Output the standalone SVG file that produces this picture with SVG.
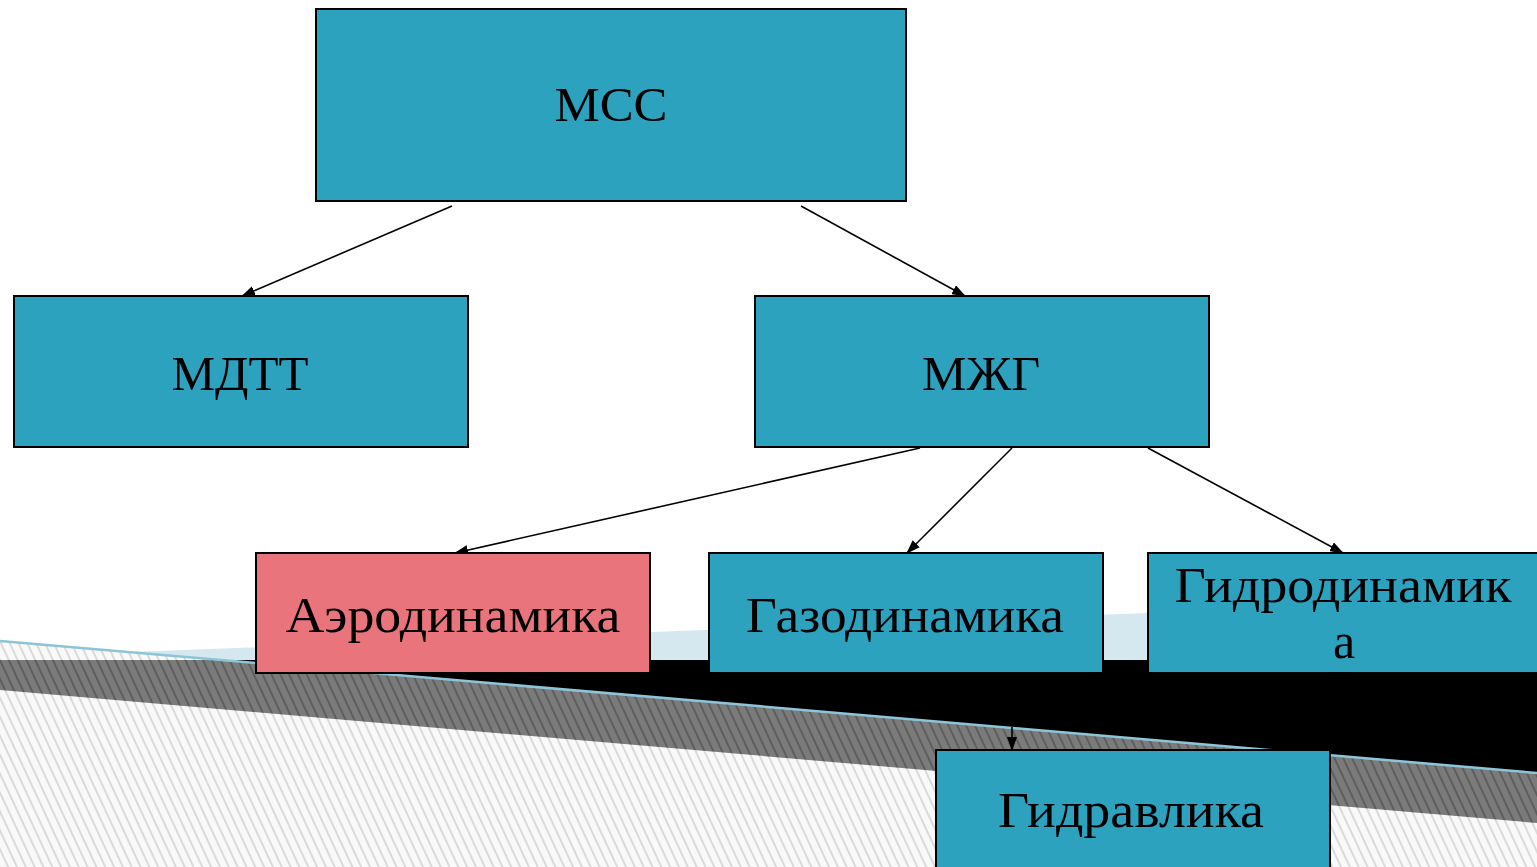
<svg xmlns="http://www.w3.org/2000/svg" width="1537" height="867" viewBox="0 0 1537 867">
  <style>
    .box{fill:#2ca2bf;stroke:#000;stroke-width:2}
    .red{fill:#ea747b;stroke:#000;stroke-width:2}
    .lbl{font-family:"Liberation Serif","Times New Roman",serif;fill:#000;text-anchor:middle}
    .big{font-size:48px}
    .mid{font-size:50px}
    .conn{stroke:#000;stroke-width:1.6;fill:none;marker-end:url(#arr)}
  </style>
  <defs>
    <marker id="arr" markerUnits="userSpaceOnUse" markerWidth="14" markerHeight="10" viewBox="0 0 14 10" refX="13" refY="5" orient="auto">
      <path d="M0,0 L14,5 L0,10 Z" fill="#000"/>
    </marker>
    <pattern id="hatchLight" width="8" height="8" patternUnits="userSpaceOnUse" patternTransform="rotate(-25)">
      <rect width="8" height="8" fill="#f9f9f9"/>
      <line x1="1" y1="0" x2="1" y2="8" stroke="#c6c6c6" stroke-width="1.2"/>
    </pattern>
    <pattern id="hatchDark" width="8" height="8" patternUnits="userSpaceOnUse" patternTransform="rotate(-25)">
      <rect width="8" height="8" fill="#7b7b7b"/>
      <line x1="1" y1="0" x2="1" y2="8" stroke="#4a4a4a" stroke-width="1.2"/>
    </pattern>
  </defs>

  <rect width="1537" height="867" fill="#ffffff"/>

  <g id="background">
    <polygon points="0,641 1537,773 1537,867 0,867" fill="url(#hatchLight)"/>
    <polygon points="0,660 221,660 1537,773 1537,823 0,690" fill="url(#hatchDark)"/>
    <polygon points="221,660 1537,660 1537,773" fill="#000"/>
    <polygon points="130,652 1537,598 1537,660 221,660" fill="#d6e8ef"/>
    <line x1="0" y1="641" x2="1537" y2="773" stroke="#8cc4d8" stroke-width="2.5"/>
  </g>

  <g id="connectors">
    <line class="conn" x1="452" y1="206" x2="242" y2="296"/>
    <line class="conn" x1="801" y1="206" x2="965" y2="296"/>
    <line class="conn" x1="920" y1="448" x2="455" y2="553"/>
    <line class="conn" x1="1012" y1="448" x2="907" y2="553"/>
    <line class="conn" x1="1148" y1="448" x2="1343" y2="553"/>
    <line class="conn" x1="1012" y1="727" x2="1012" y2="750"/>
  </g>

  <g id="node-mss">
    <rect class="box" x="316" y="9" width="590" height="192"/>
    <text class="lbl big" x="611" y="121" textLength="113" lengthAdjust="spacingAndGlyphs">МСС</text>
  </g>
  <g id="node-mdtt">
    <rect class="box" x="14" y="296" width="454" height="151"/>
    <text class="lbl big" x="240" y="390" textLength="137" lengthAdjust="spacingAndGlyphs">МДТТ</text>
  </g>
  <g id="node-mzhg">
    <rect class="box" x="755" y="296" width="454" height="151"/>
    <text class="lbl big" x="981" y="390" textLength="118" lengthAdjust="spacingAndGlyphs">МЖГ</text>
  </g>
  <g id="node-aero">
    <rect class="red" x="256" y="553" width="394" height="120"/>
    <text class="lbl mid" x="453" y="632" textLength="335" lengthAdjust="spacingAndGlyphs">Аэродинамика</text>
  </g>
  <g id="node-gaso">
    <rect class="box" x="709" y="553" width="394" height="120"/>
    <text class="lbl mid" x="905" y="632" textLength="318" lengthAdjust="spacingAndGlyphs">Газодинамика</text>
  </g>
  <g id="node-gidrodin">
    <rect class="box" x="1148" y="553" width="394" height="120"/>
    <text class="lbl mid" x="1343" y="602" textLength="337" lengthAdjust="spacingAndGlyphs">Гидродинамик</text>
    <text class="lbl mid" x="1344" y="658">а</text>
  </g>
  <g id="node-gidravl">
    <rect class="box" x="936" y="750" width="394" height="130"/>
    <text class="lbl mid" x="1131" y="827" textLength="266" lengthAdjust="spacingAndGlyphs">Гидравлика</text>
  </g>
</svg>
